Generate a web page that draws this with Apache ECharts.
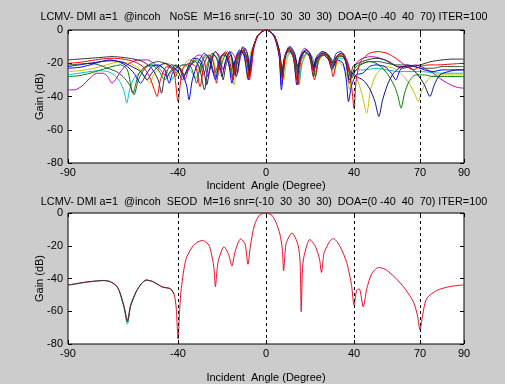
<!DOCTYPE html>
<html>
<head>
<meta charset="utf-8">
<script src="https://cdn.jsdelivr.net/npm/echarts@6/dist/echarts.min.js"></script>
<style>html,body{margin:0;padding:0;background:#cccccc;}#c{width:505px;height:384px;}</style>
</head>
<body>
<div id="c"></div>
<script>
// ---- tick labels / markers ----
const xTicks = [-90, -40, 0, 40, 70, 90];
const yTicks = [0, -20, -40, -60, -80];
const doaLines = [-40, 0, 40, 70];
const titleTop = "LCMV- DMI a=1  @incoh   NoSE  M=16 snr=(-10  30  30  30)  DOA=(0 -40  40  70) ITER=100";
const titleBottom = "LCMV- DMI a=1  @incoh  SEOD  M=16 snr=(-10  30  30  30)  DOA=(0 -40  40  70) ITER=100";
const xName = "Incident  Angle (Degree)";
const yName = "Gain (dB)";

// ---- top panel (NoSE): individual trials [angle, gain dB] ----
const trialBlack = [[-90,-18],[-85,-17.5],[-80,-17],[-75,-16.5],[-70,-16],[-65,-16.5],[-60,-17.5],[-56,-19],[-52,-23],[-49,-30],[-47.5,-38],[-46,-28],[-43,-21],[-40,-22],[-37,-27],[-35,-22],[-32,-19],[-30,-24],[-28,-36],[-26,-20],[-23,-13],[-21,-18],[-19.5,-30],[-18,-20],[-16,-15],[-14.5,-27],[-13,-17],[-10.5,-11],[-8.5,-18],[-7.5,-26],[-6,-12],[-4,-4],[-2,-1],[0,0],[2,-1],[4,-4],[6,-13],[7,-28],[8.5,-16],[10.5,-11],[12.5,-17],[14,-30],[15.5,-18],[18,-13],[20,-17],[21.5,-28],[23,-18],[26,-14],[28,-16],[30,-24],[32,-16],[34,-14],[36,-18],[38,-32],[39.5,-22],[42,-20],[46,-18],[50,-17],[54,-18],[58,-21],[62,-23],[66,-22],[70,-21],[75,-19],[80,-18],[85,-17.5],[90,-17.5]];
const trialRed = [[-90,-20],[-85,-19.5],[-80,-18.5],[-75,-17.5],[-70,-17],[-65,-17.5],[-60,-19],[-56,-22],[-53,-28],[-51,-35],[-49.5,-40],[-48,-30],[-45,-22],[-42,-24],[-40,-43],[-38,-24],[-35,-20],[-32,-22],[-30,-34],[-28,-20],[-26,-15],[-24,-19],[-22.5,-32],[-21,-19],[-18.5,-13],[-16.5,-19],[-15,-30],[-13.5,-17],[-11,-12],[-9,-17],[-7.5,-30],[-6,-12],[-4,-4],[-2,-1],[0,0],[2,-1],[4,-4],[6,-14],[7.5,-30],[9,-14],[11,-12],[13,-19],[14.5,-33],[16,-18],[18.5,-14],[20.5,-18],[22,-30],[24,-17],[26.5,-14],[29,-18],[30.5,-28],[32.5,-17],[35,-14],[37,-20],[39,-35],[40,-47],[41,-30],[43,-19],[47,-14],[51,-13],[55,-14],[59,-17],[63,-21],[67,-24],[70,-22],[74,-21],[78,-21],[84,-20.5],[90,-20]];
const trialBlue = [[-90,-23],[-85,-22.5],[-80,-21],[-75,-19],[-71,-18],[-67,-19],[-63,-22],[-60,-26],[-57,-32],[-55,-28],[-52,-22],[-49,-21],[-46,-24],[-44,-32],[-42.5,-26],[-40,-22],[-38,-26],[-36,-34],[-35,-42],[-33.5,-30],[-31,-20],[-28,-14],[-26,-17],[-24,-26],[-23,-30],[-21,-18],[-19,-14],[-17,-20],[-15.5,-32],[-14,-18],[-12,-12],[-10,-15],[-8,-30],[-6.5,-14],[-4,-4],[-2,-1],[0,0],[2,-1],[4,-5],[6,-16],[7,-36],[8.5,-17],[10.5,-12],[12.5,-17],[14,-33],[15.5,-17],[17.5,-13],[19.5,-15],[21.5,-24],[23,-17],[26,-15],[28.5,-18],[30.5,-22],[32.5,-18],[35,-20],[36.5,-30],[37.5,-43],[39,-33],[41,-27],[44,-26],[47,-22],[50,-21],[54,-22],[57,-26],[59,-30],[61,-24],[64,-21],[68,-22],[72,-24],[76,-25],[80,-24],[85,-24],[90,-24]];
const trialNavy = [[-90,-22],[-85,-21],[-80,-20],[-75,-19],[-70,-18.5],[-65,-19.5],[-61,-22],[-57,-25],[-54,-30],[-52,-26],[-49,-22],[-46,-20],[-43,-22],[-40,-25],[-38,-30],[-36,-24],[-33,-17],[-30,-18],[-28,-26],[-27,-33],[-25.5,-24],[-23.5,-15],[-21.5,-19],[-20,-28],[-18.5,-19],[-16.5,-13],[-14.5,-22],[-13.5,-28],[-12,-17],[-10.5,-10],[-8.5,-14],[-7.5,-24],[-6,-12],[-4,-4],[-2,-1],[0,0],[2,-1],[4,-4],[6,-12],[7.5,-25],[9,-14],[11,-10],[13,-14],[14.5,-22],[16,-16],[18,-12],[20,-14],[21.5,-22],[23,-16],[25.5,-13],[28,-15],[30,-20],[32,-14],[34,-13],[36,-17],[38,-30],[39.5,-26],[41,-28],[44,-30],[47,-35],[49.5,-43],[51.3,-52],[53,-42],[55.5,-32],[58,-26],[62,-22],[66,-23],[69,-27],[72,-33],[74.5,-40],[76.5,-33],[79,-27],[83,-25],[87,-24],[90,-24]];
const trialGreen = [[-90,-28],[-85,-27.5],[-80,-26],[-75,-24],[-70,-22],[-66,-21],[-63,-24],[-60.5,-38],[-58,-27],[-55,-22],[-52,-21],[-49,-24],[-46,-30],[-44,-26],[-41,-21],[-39,-23],[-37,-27],[-35,-23],[-32,-18],[-30,-20],[-28.5,-27],[-27,-22],[-24.5,-14],[-22.5,-17],[-21,-24],[-19.5,-18],[-17.5,-13],[-15.5,-17],[-14,-26],[-12.5,-17],[-10.5,-12],[-8.5,-17],[-7.5,-28],[-6,-12],[-4,-4],[-2,-1],[0,0],[2,-1],[4,-4],[6,-14],[7,-27],[8.5,-16],[10.5,-13],[12.5,-16],[14,-26],[15.5,-17],[17.5,-13],[19.5,-15],[21,-21],[22.5,-28],[24,-18],[26.5,-14],[29,-16],[31,-20],[33,-15],[35,-16],[37,-21],[39,-26],[41,-22],[44,-20],[47,-19],[50,-20],[53,-23],[56,-28],[58.5,-34],[60,-40],[61.4,-47],[63,-38],[65,-31],[68,-27],[72,-27],[76,-28],[80,-28],[85,-28],[90,-28]];
const trialCyan = [[-90,-27],[-85,-26],[-80,-25],[-76,-24.5],[-72,-25],[-69,-27],[-66.5,-31],[-64.5,-37],[-63.3,-44],[-62,-36],[-60,-29],[-57,-25],[-54,-22],[-51,-21],[-48,-22],[-45,-25],[-43,-30],[-41.5,-27],[-40,-22],[-37,-21],[-34,-25],[-32,-29],[-30,-24],[-27.5,-16],[-25.5,-18],[-24,-25],[-23,-28],[-21.5,-19],[-19,-14],[-17,-18],[-15.5,-29],[-14,-19],[-12,-13],[-10,-15],[-8,-28],[-6.5,-13],[-4,-4],[-2,-1],[0,0],[2,-1],[4,-4],[6,-13],[7.5,-29],[9,-17],[11.5,-13],[13.5,-18],[15,-32],[16.5,-19],[19,-14],[21,-16],[22.5,-23],[24,-17],[27,-15],[29.5,-17],[31,-22],[33,-17],[35.5,-17],[37,-20],[39,-28],[41,-24],[45,-24],[50,-23],[55,-24],[60,-25],[65,-25],[70,-25],[75,-25.5],[80,-26],[85,-26],[90,-26]];
const trialMagenta = [[-90,-36],[-87,-36],[-84,-34],[-80,-29],[-77,-26],[-74,-26],[-72,-28],[-70,-32],[-68,-29],[-65,-23],[-62,-20],[-58,-18],[-54,-18],[-51,-20],[-48,-24],[-45,-28],[-43,-25],[-41,-22],[-39,-24],[-37,-30],[-35,-23],[-32,-16],[-30,-15],[-28,-19],[-26.5,-28],[-25,-19],[-23,-13],[-21,-16],[-19.5,-24],[-18,-18],[-16,-13],[-14,-17],[-13,-26],[-11.5,-16],[-9.5,-11],[-8,-17],[-7,-26],[-5.5,-11],[-4,-4],[-2,-1],[0,0],[2,-1],[4,-4],[6,-15],[7,-33],[8.5,-16],[10.5,-10],[12.5,-14],[14,-24],[15.5,-16],[17.5,-11],[19.5,-13],[21.5,-22],[23,-17],[25.5,-14],[28,-16],[30,-23],[32,-16],[34.5,-14],[37,-19],[39,-27],[41,-20],[44,-17],[48,-16],[52,-17],[56,-19],[60,-22],[64,-22],[68,-21],[72,-23],[76,-26],[80,-30],[84,-33],[87,-34.5],[90,-35]];
const trialYellow = [[-90,-25],[-85,-24.5],[-80,-23.5],[-75,-22],[-70,-20],[-66,-19],[-62,-20],[-58,-23],[-55,-28],[-53,-32],[-51,-27],[-48,-22],[-45,-20],[-42,-22],[-40,-28],[-38,-23],[-35,-18],[-32,-19],[-30,-25],[-28.5,-21],[-26,-15],[-24,-18],[-22,-28],[-20.5,-19],[-18,-14],[-16,-18],[-14.5,-33],[-13,-18],[-11,-13],[-9.5,-19],[-8.5,-29],[-7,-14],[-4,-4.5],[-2,-1],[0,0],[2,-1],[4,-4.5],[6,-14],[8,-30],[9.5,-18],[11.5,-12],[13.5,-18],[15,-33],[16.5,-20],[19,-14],[21,-17],[22.5,-25],[24,-19],[26.5,-15],[29,-18],[31,-24],[33,-19],[35,-22],[37,-28],[38,-36],[39.5,-27],[41.5,-30],[43.5,-38],[45.8,-50],[47.5,-36],[50,-27],[54,-22],[58,-23],[62,-27],[65,-32],[67.5,-38],[69.2,-43],[71,-36],[73.5,-30],[77,-27],[82,-27],[86,-27],[90,-27]];
const trialDarkGreen = [[-90,-21],[-85,-20.5],[-80,-20],[-76,-21],[-72,-23],[-68,-25],[-65,-28],[-62,-33],[-60,-39],[-58,-30],[-55,-23],[-52,-20],[-49,-19],[-46,-20],[-43,-23],[-41,-28],[-40,-24],[-38,-21],[-35,-21],[-33,-26],[-31.5,-32],[-30,-22],[-27.5,-15],[-25.5,-17],[-23.5,-26],[-22,-22],[-20,-15],[-18,-16],[-16,-24],[-14.5,-20],[-12.5,-14],[-10.5,-13],[-8.5,-20],[-7.5,-27],[-6,-12],[-4,-4],[-2,-1],[0,0],[2,-1],[4,-4],[6,-12],[7.5,-26],[9,-15],[11,-11],[13,-15],[14.5,-25],[16,-16],[18,-12],[20,-14],[22,-23],[23.5,-17],[26,-13],[28.5,-15],[30.5,-21],[32.5,-16],[35,-16],[37,-22],[39,-29],[40.5,-25],[43,-21],[47,-19],[51,-19],[55,-20],[59,-21],[63,-21],[67,-22],[71,-23],[76,-23],[80,-22],[85,-22],[90,-22]];

// ---- bottom panel (SEOD): overlapping trials ----
const seodRed = [[-90,-44],[-86,-43.2],[-82,-42.3],[-78,-41.7],[-74,-41.3],[-71,-41.9],[-68,-44.5],[-66.5,-48.3],[-64.5,-57],[-63,-65.5],[-61.5,-56],[-59,-48],[-56.5,-43],[-54.5,-41],[-51.5,-41.9],[-49,-43.8],[-47,-45.3],[-43.5,-46.3],[-41.8,-49.5],[-40.8,-58],[-40,-77],[-39.2,-58],[-38.5,-46],[-36.4,-28.3],[-33.3,-20.3],[-30.9,-17.6],[-29,-16.8],[-27.9,-17.2],[-26,-19.5],[-24.9,-24.3],[-23.7,-33],[-23,-45],[-22.2,-34],[-21.5,-28.3],[-19.1,-20.6],[-17,-25.3],[-15.5,-32.3],[-14,-23.3],[-11.5,-15.8],[-9.5,-19],[-8.2,-31.3],[-7.1,-20.3],[-5.2,-7.2],[-2.9,-1.2],[0,0],[3.2,-2.2],[6.2,-12.2],[7.4,-22],[8,-35.3],[8.7,-24],[9.2,-18.2],[11.8,-12.2],[14.5,-19.2],[15.5,-30],[16,-60.3],[16.6,-34],[17.3,-26.3],[19.9,-16.2],[22.4,-20.3],[24.3,-28],[25.2,-36.3],[26,-28],[26.4,-24.3],[29,-17.2],[30.6,-15.6],[33.6,-20.3],[36.7,-30.3],[38.9,-44.3],[40,-56.3],[41.2,-47.3],[42.4,-46.3],[44.2,-57.3],[45.8,-46.3],[48,-37.3],[51.1,-33.3],[54.1,-34.3],[58.6,-39.3],[63.2,-46.3],[67,-54.3],[68.8,-62.3],[70,-71.4],[71.2,-62.3],[73,-52.3],[77.6,-47.3],[83.6,-44.9],[90,-43.9]];
const seodBlack = [[-90,-44],[-86,-43.1],[-82,-42.2],[-78,-41.6],[-74,-41.2],[-71,-41.8],[-68,-44.4],[-66.5,-48.2],[-64.5,-57.5],[-63,-66.5],[-61.5,-56.5],[-59,-48],[-56.5,-43],[-54.5,-40.9],[-51.5,-41.8],[-49,-43.7],[-47,-45.2],[-43.5,-46.2],[-41.8,-49.4]];
const seodCyan = [[-66.5,-48.5],[-64.5,-58],[-63,-68],[-61.5,-57],[-59,-48.2]];

const topTrials = [
  {d: trialYellow, c: '#c8c000'},
  {d: trialCyan, c: '#00c0c0'},
  {d: trialMagenta, c: '#c000c0'},
  {d: trialGreen, c: '#008000'},
  {d: trialDarkGreen, c: '#2a5a2a'},
  {d: trialBlue, c: '#0000ff'},
  {d: trialNavy, c: '#10108a'},
  {d: trialBlack, c: '#303030'},
  {d: trialRed, c: '#ff0000'}
];

const chart = echarts.init(document.getElementById('c'), null, {renderer: 'canvas'});
const FONT = 'Liberation Sans';
const grids = [
  {left: 68, top: 30, width: 396, height: 133},
  {left: 68, top: 213, width: 396, height: 133}
];
function xAx(gi, pos, gap) {
  const main = pos === 'bottom';
  return {
    type: 'value', gridIndex: gi, position: pos, min: -90, max: 90,
    name: main ? xName : '', nameLocation: 'middle', nameGap: gap,
    nameTextStyle: {fontFamily: FONT, fontSize: 11, color: '#000', verticalAlign: 'top'},
    axisLine: {show: false, onZero: false},
    axisTick: {show: true, inside: true, length: 4, customValues: xTicks, lineStyle: {color: '#000'}},
    axisLabel: {show: main, customValues: xTicks, margin: 4, fontFamily: FONT, fontSize: 11, color: '#000'},
    splitLine: {show: false}
  };
}
function yAx(gi, pos) {
  const main = pos === 'left';
  return {
    type: 'value', gridIndex: gi, position: pos, min: -80, max: 0, interval: 20,
    name: main ? yName : '', nameLocation: 'middle', nameGap: 23, nameRotate: 90, nameMoveOverlap: false,
    nameTextStyle: {fontFamily: FONT, fontSize: 11, color: '#000'},
    axisLine: {show: false, onZero: false},
    axisTick: {show: true, inside: true, length: 4, lineStyle: {color: '#000'}},
    axisLabel: {show: main, margin: 5, fontFamily: FONT, fontSize: 11, color: '#000'},
    splitLine: {show: false}
  };
}
const dashLines = {
  silent: true, symbol: 'none', animation: false,
  label: {show: false},
  lineStyle: {type: [3, 3], color: '#000', width: 1},
  data: doaLines.map(v => ({xAxis: v}))
};
const series = [];
topTrials.forEach((t, i) => {
  series.push({
    type: 'line', xAxisIndex: 0, yAxisIndex: 0, data: t.d, showSymbol: false, symbol: 'none',
    smooth: 0.25, lineStyle: {width: 1, color: t.c}, itemStyle: {color: t.c}, animation: false,
    markLine: i === 0 ? dashLines : undefined
  });
});
series.push({type: 'line', xAxisIndex: 2, yAxisIndex: 2, data: seodRed, symbol: 'none', smooth: 0.25,
  lineStyle: {width: 1, color: '#e8102a'}, animation: false, markLine: dashLines});
series.push({type: 'line', xAxisIndex: 2, yAxisIndex: 2, data: seodCyan, symbol: 'none', smooth: 0.25,
  lineStyle: {width: 1, color: '#40b0b0'}, animation: false});
series.push({type: 'line', xAxisIndex: 2, yAxisIndex: 2, data: seodBlack, symbol: 'none', smooth: 0.25,
  lineStyle: {width: 1, color: '#303030'}, animation: false});

chart.setOption({
  backgroundColor: '#cccccc',
  animation: false,
  textStyle: {fontFamily: FONT},
  title: [
    {text: titleTop, left: 259, top: 7, textAlign: 'center', textStyle: {fontFamily: FONT, fontSize: 10.8, fontWeight: 'normal', color: '#000'}},
    {text: titleBottom, left: 259, top: 192, textAlign: 'center', textStyle: {fontFamily: FONT, fontSize: 10.8, fontWeight: 'normal', color: '#000'}}
  ],
  grid: grids.map(g => Object.assign({show: true, backgroundColor: '#ffffff', borderColor: '#000', borderWidth: 1}, g)),
  xAxis: [xAx(0, 'bottom', 17), xAx(0, 'top', 17), xAx(1, 'bottom', 28), xAx(1, 'top', 17)],
  yAxis: [yAx(0, 'left'), yAx(0, 'right'), yAx(1, 'left'), yAx(1, 'right')],
  series: series
});
</script>
</body>
</html>
